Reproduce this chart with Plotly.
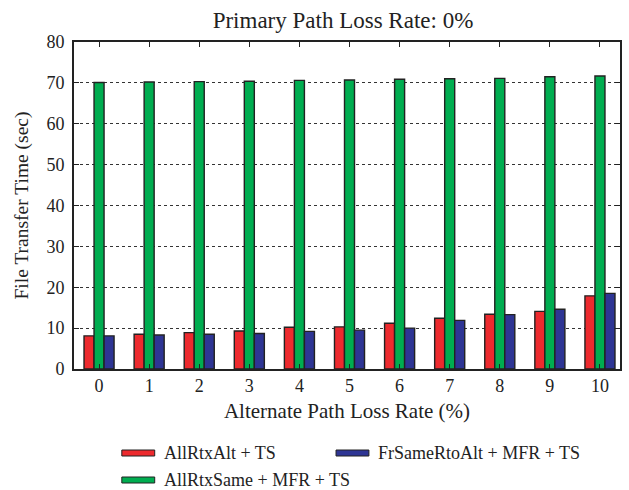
import plotly.graph_objects as go

# Alternate path loss rate (%) on the x axis
loss_rates = [0, 1, 2, 3, 4, 5, 6, 7, 8, 9, 10]

# File transfer time (sec) per scheme
all_rtx_alt = [8.1, 8.5, 8.9, 9.3, 10.2, 10.3, 11.2, 12.4, 13.4, 14.1, 17.9]
all_rtx_same = [70.1, 70.2, 70.3, 70.4, 70.6, 70.7, 70.9, 71.0, 71.1, 71.5, 71.7]
fr_same_rto_alt = [8.1, 8.3, 8.5, 8.7, 9.2, 9.5, 10.0, 11.9, 13.3, 14.6, 18.5]

series_names = ["AllRtxAlt + TS", "AllRtxSame + MFR + TS", "FrSameRtoAlt + MFR + TS"]
series_values = [all_rtx_alt, all_rtx_same, fr_same_rto_alt]
series_colors = ["#ED2A2E", "#00AD50", "#2E3594"]

y_ticks = [0, 10, 20, 30, 40, 50, 60, 70, 80]

W, H = 629, 490
L, R, T, B = 74, 622, 42, 369  # plot box in pixels
FONT = "Liberation Serif, Times New Roman, serif"


def px_x(px):
    return (px - L) / (R - L)


def px_y(py):
    return (B - py) / (B - T)


fig = go.Figure()
for name, vals, col in zip(series_names, series_values, series_colors):
    fig.add_trace(go.Bar(
        x=loss_rates, y=vals, name=name, showlegend=False,
        marker=dict(color=col, line=dict(color="#222222", width=1.4)),
    ))

# Legend drawn as wide swatches with labels below the axes
legend_items = [
    (series_names[0], series_colors[0], 122, 453),
    (series_names[2], series_colors[2], 337, 453),
    (series_names[1], series_colors[1], 122, 480),
]
shapes = []
annotations = []
for name, col, x0, yc in legend_items:
    shapes.append(dict(
        type="rect", xref="paper", yref="paper",
        x0=px_x(x0), x1=px_x(x0 + 33), y0=px_y(yc + 3), y1=px_y(yc - 3),
        fillcolor=col, line=dict(color="#222222", width=1),
    ))
    annotations.append(dict(
        xref="paper", yref="paper", x=px_x(x0 + 40), y=px_y(yc),
        xanchor="left", yanchor="middle", text=name, showarrow=False,
        font=dict(family=FONT, size=18, color="#222"),
    ))

fig.update_layout(
    width=W, height=H,
    margin=dict(l=L, r=W - R, t=T, b=H - B),
    paper_bgcolor="white", plot_bgcolor="white",
    barmode="group", bargap=0.4, bargroupgap=0,
    font=dict(family=FONT, size=18, color="#222"),
    title=dict(
        text="Primary Path Loss Rate: 0%", xref="container", x=343 / W,
        xanchor="center", y=1 - 20 / H, yanchor="middle",
        font=dict(family=FONT, size=23, color="#222"),
    ),
    xaxis=dict(
        range=[-0.5, 10.4], tickvals=loss_rates, ticktext=[str(v) for v in loss_rates],
        ticks="inside", ticklen=5, tickcolor="#222", showline=True,
        linecolor="#222", linewidth=1.7, mirror="allticks", showgrid=False,
        zeroline=False, ticklabelstandoff=0,
        title=dict(text="Alternate Path Loss Rate (%)", standoff=8,
                   font=dict(family=FONT, size=21)),
    ),
    yaxis=dict(
        range=[0, 80], tickvals=y_ticks, ticks="inside", ticklen=5,
        tickcolor="#222", showline=True, linecolor="#222", linewidth=1.7,
        mirror="allticks", showgrid=True, gridcolor="#333", griddash="dot",
        gridwidth=1, zeroline=False, ticklabelstandoff=4,
        title=dict(text="File Transfer Time (sec)", standoff=13,
                   font=dict(family=FONT, size=19.5)),
    ),
    shapes=shapes,
    annotations=annotations,
)

fig.write_html("out.html")
